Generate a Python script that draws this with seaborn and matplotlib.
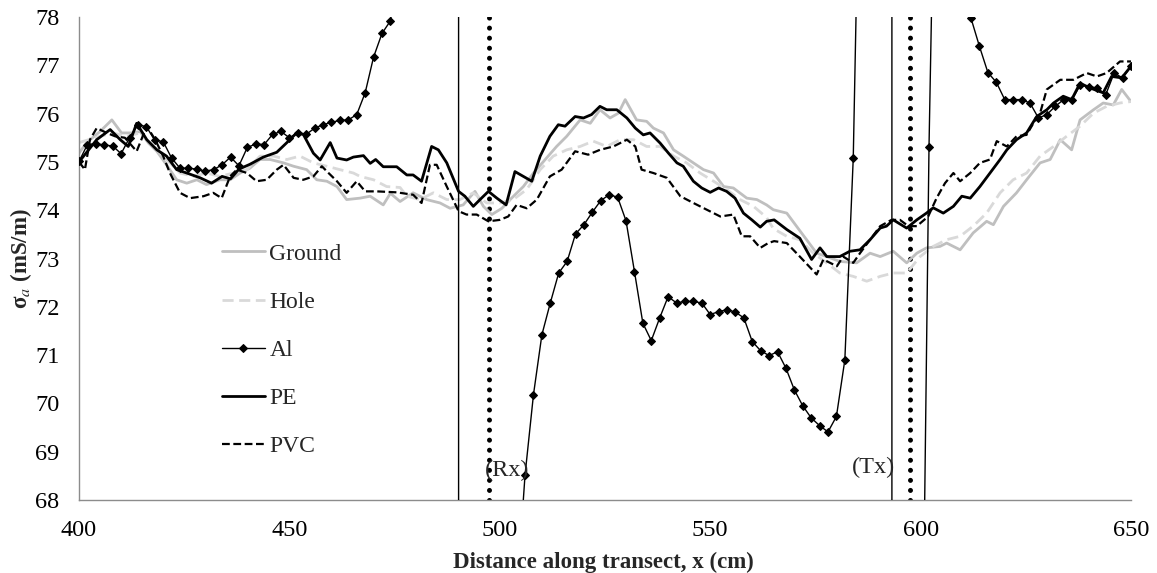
import matplotlib
matplotlib.use('Agg')
import matplotlib.pyplot as plt
import seaborn as sns

# ---------------- data ----------------
ground_x = [400, 401.8, 405, 407.8, 410.1, 412.5, 414.5, 416.5, 418.5, 420.8, 423.2, 425.6, 428, 430.3,
            433.5, 435.9, 438.3, 440.6, 443, 445.4, 448.6, 451, 454.1, 456.5, 458.9, 461.3, 463.6, 466.8,
            469.2, 472.3, 474, 476.3, 479.4, 482.6, 485.8, 488.2, 491.3, 494.1, 496.1, 498.1, 500.5, 502.8,
            505.6, 508, 511.1, 513.5, 515.9, 519.1, 521.5, 523.8, 526.2, 528.2, 529.8, 532.5, 534.9, 536.5,
            538.9, 541.3, 543.6, 546, 548.4, 550.8, 553.2, 555.5, 558.7, 561.1, 563.4, 565, 568.2, 570.5,
            572.9, 575.3, 577.7, 580.8, 584.8, 588, 590.4, 593.5, 596.7, 599.1, 601.4, 604.6, 606.2, 609.4,
            612.5, 615.7, 617.3, 619.7, 622.8, 625.2, 628.4, 630.8, 633.2, 635.9, 637.9, 641.1, 643.4, 645.8,
            647.8, 650]
ground_y = [75.18, 75.4, 75.63, 75.87, 75.6, 75.6, 75.63, 75.39, 75.22, 74.94, 74.63, 74.56, 74.63, 74.53,
            74.63, 74.63, 74.77, 74.87, 75.05, 75.05, 74.98, 74.91, 74.84, 74.63, 74.6, 74.49, 74.22, 74.25,
            74.29, 74.11, 74.35, 74.18, 74.36, 74.22, 74.15, 74.04, 74.11, 74.39, 74.08, 73.91, 74.04, 74.25,
            74.49, 74.77, 75.08, 75.32, 75.53, 75.87, 75.8, 76.08, 75.91, 76.01, 76.29, 75.87, 75.84, 75.7,
            75.6, 75.25, 75.12, 74.98, 74.84, 74.77, 74.49, 74.46, 74.25, 74.22, 74.11, 74.01, 73.94, 73.67,
            73.39, 73.11, 73.04, 72.94, 72.91, 73.11, 73.04, 73.15, 72.91, 73.11, 73.22, 73.25, 73.32, 73.18,
            73.53, 73.77, 73.7, 74.08, 74.36, 74.63, 74.98, 75.05, 75.46, 75.25, 75.87, 76.08, 76.22, 76.18,
            76.5, 76.25]

hole_x = [400, 405, 408, 411.3, 414.5, 417.7, 420.8, 424, 427.2, 430.3, 433.5, 436.7, 439.9, 443, 446.2,
          449.4, 452.5, 455.7, 458.9, 462, 465.2, 466.8, 470, 473.1, 476.3, 477.9, 481, 484.2, 487.4, 490.5,
          493.7, 496.9, 500, 503.2, 506.4, 509.6, 512.7, 515.9, 519.1, 522.2, 525.4, 528.6, 531.8, 534.9,
          538.1, 541.3, 544.4, 547.6, 550.8, 553.9, 557.1, 560.3, 563.4, 565, 568.2, 571.3, 574.5, 577.7,
          580.8, 584, 587.2, 590.4, 593.5, 596.7, 599.9, 603, 606.2, 609.4, 612.5, 615.7, 618.9, 622, 625.2,
          628.4, 631.6, 634.7, 637.9, 641.1, 644.2, 647.4, 650]
hole_y = [75.4, 75.53, 75.6, 75.53, 75.6, 75.32, 75.05, 74.77, 74.7, 74.77, 74.7, 74.77, 74.84, 75.12, 75.12,
          75.05, 75.12, 74.98, 74.91, 74.84, 74.77, 74.7, 74.63, 74.49, 74.47, 74.29, 74.22, 74.36, 74.22, 74.22,
          74.36, 74.15, 74.15, 74.22, 74.43, 74.84, 75.12, 75.25, 75.32, 75.43, 75.32, 75.46, 75.46, 75.32,
          75.32, 75.12, 74.98, 74.77, 74.6, 74.43, 74.22, 74.08, 73.85, 73.62, 73.46, 73.39, 73.11, 72.91,
          72.7, 72.63, 72.53, 72.63, 72.7, 72.7, 73.04, 73.25, 73.39, 73.46, 73.67, 73.94, 74.36, 74.63, 74.77,
          75.12, 75.32, 75.53, 75.74, 76.01, 76.15, 76.22, 76.25]

al_x = list(range(400, 651, 2))
al_y = [75.01, 75.36, 75.38, 75.35, 75.33, 75.17, 75.5, 75.77, 75.73, 75.45,
        75.42, 75.08, 74.87, 74.87, 74.85, 74.81, 74.84, 74.94, 75.1, 74.92,
        75.3, 75.37, 75.36, 75.57, 75.63, 75.5, 75.6, 75.57, 75.7, 75.77,
        75.82, 75.86, 75.87, 75.98, 76.43, 77.17, 77.66, 77.92, 79, 100,
        130, 180, 260, 400, 650, 1000, -8000, -3000, -1200, -500,
        -150, 20, 66.0, 68.52, 70.18, 71.42, 72.08, 72.7, 72.94, 73.51,
        73.7, 73.96, 74.2, 74.32, 74.27, 73.78, 72.73, 71.66, 71.3, 71.77,
        72.21, 72.08, 72.11, 72.11, 72.08, 71.84, 71.9, 71.94, 71.89, 71.77,
        71.28, 71.09, 70.99, 71.07, 70.73, 70.28, 69.95, 69.7, 69.54, 69.41,
        69.73, 70.9, 75.08, 84, 300, 2000, 6000, -4000, -2000, -500,
        61, 75.3, 84.7, 300, 200, 150, 77.97, 77.39, 76.85, 76.65,
        76.29, 76.29, 76.29, 76.22, 75.91, 75.98, 76.15, 76.29, 76.29, 76.6,
        76.56, 76.53, 76.39, 76.84, 76.74, 76.98]

pe_x = [400, 404.2, 407.4, 409.8, 411.7, 413.7, 416.1, 418.5, 420.8, 423.2, 425.6, 428.8, 431.5, 434, 436,
        438, 440.6, 443.8, 447, 449.4, 451.7, 453.3, 455.7, 457.3, 459.7, 461.3, 463.6, 465.2, 467.6, 469.2,
        470.5, 472.3, 475.5, 477.9, 479.4, 481.4, 483.8, 485.4, 487.4, 490.2, 491.7, 493.7, 495.3, 497.3,
        499.3, 501.5, 503.6, 505.6, 507.6, 509.6, 511.9, 513.9, 515.5, 517.9, 519.9, 521.8, 523.8, 525.4,
        527.8, 530.2, 532.2, 534.1, 535.7, 538.1, 540.1, 542.1, 543.6, 546, 548, 550, 552, 553.9, 555.9,
        557.9, 559.9, 561.9, 563.4, 565.2, 568.2, 571.3, 574.1, 576.1, 577.7, 580.8, 583.2, 585.6, 588,
        590.4, 591.9, 593.5, 596.7, 599.1, 601.4, 603, 605.4, 607.8, 609.8, 611.8, 614.1, 616.5, 618.9,
        620.5, 622.8, 625.2, 627.6, 630, 631.6, 633.9, 635.9, 637.9, 640.3, 643.4, 645.4, 647.8, 650]
pe_y = [75.0, 75.46, 75.67, 75.46, 75.32, 75.8, 75.46, 75.25, 75.12, 74.84, 74.77, 74.67, 74.56, 74.7, 74.65,
        74.85, 74.95, 75.1, 75.2, 75.4, 75.6, 75.57, 75.18, 75.04, 75.4, 75.08, 75.04, 75.1, 75.13, 74.97,
        75.05, 74.9, 74.9, 74.73, 74.73, 74.6, 75.32, 75.25, 74.98, 74.39, 74.29, 74.08, 74.22, 74.39,
        74.25, 74.11, 74.8, 74.7, 74.6, 75.12, 75.53, 75.77, 75.74, 75.94, 75.91, 75.98, 76.15, 76.08,
        76.08, 75.91, 75.7, 75.56, 75.6, 75.39, 75.18, 74.98, 74.91, 74.6, 74.46, 74.37, 74.46, 74.39, 74.25,
        73.94, 73.8, 73.65, 73.77, 73.8, 73.6, 73.42, 72.98, 73.22, 73.04, 73.04, 73.15, 73.18, 73.39,
        73.63, 73.67, 73.8, 73.63, 73.8, 73.94, 74.05, 73.94, 74.08, 74.29, 74.25, 74.49, 74.77, 75.05,
        75.25, 75.46, 75.6, 75.94, 76.08, 76.22, 76.36, 76.29, 76.63, 76.53, 76.43, 76.77, 76.74, 76.98]

pvc_x = [400, 401.4, 402.6, 404.2, 406.6, 408.6, 410.9, 413.7, 416.1, 418.1, 420, 421.6, 424, 426.4, 429.6,
         431.9, 433.9, 435.9, 437.5, 439.9, 442.2, 444.6, 447, 448.6, 451, 453.3, 455.7, 457.7, 459.3, 461.3,
         463.6, 466, 468, 470.8, 475.5, 479.4, 481.4, 483.4, 485, 487.4, 490.2, 492.1, 494.5, 497.3, 500,
         502, 504, 506.4, 508.8, 511.9, 514.7, 517.9, 521, 523.8, 527, 530.2, 532.2, 533.7, 536.5, 539.7,
         542.9, 546, 549.2, 552.4, 555.5, 557.5, 559.5, 561.9, 563.8, 565.2, 568.2, 571.3, 575.3, 576.9,
         578.5, 580.1, 581.6, 584, 585.6, 588, 590.4, 593.1, 595.1, 597.1, 599.1, 601.8, 603.8, 605.8,
         607.8, 609.4, 611.8, 614.1, 616.5, 618.1, 620.5, 622.8, 625.2, 626.8, 628.4, 630, 633.2, 636.3,
         637.9, 639.5, 641.9, 644.2, 647.4, 650]
pvc_y = [75.0, 74.84, 75.46, 75.7, 75.6, 75.53, 75.5, 75.22, 75.74, 75.46, 75.12, 74.77, 74.36, 74.25, 74.29,
         74.36, 74.25, 74.7, 74.84, 74.77, 74.6, 74.63, 74.84, 74.94, 74.67, 74.63, 74.7, 74.91, 74.77, 74.6,
         74.36, 74.6, 74.39, 74.39, 74.37, 74.32, 74.15, 74.94, 74.94, 74.49, 73.98, 73.91, 73.91, 73.77, 73.8,
         73.87, 74.11, 74.04, 74.22, 74.7, 74.84, 75.22, 75.15, 75.25, 75.32, 75.46, 75.32, 74.84, 74.77, 74.67,
         74.29, 74.15, 74.01, 73.87, 73.91, 73.46, 73.46, 73.22, 73.32, 73.36, 73.32, 73.04, 72.67, 72.98,
         72.91, 72.84, 73.04, 72.91, 73.11, 73.39, 73.67, 73.8, 73.8, 73.67, 73.67, 73.87, 74.25, 74.56,
         74.77, 74.6, 74.77, 74.98, 75.05, 75.43, 75.32, 75.53, 75.56, 75.8, 76.01, 76.5, 76.7, 76.7,
         76.77, 76.84, 76.77, 76.84, 77.08, 77.08]

coil_x = [497.5, 597.5]
coil_labels = ['(Rx)', '(Tx)']
coil_label_x = [501.7, 588.8]
coil_label_y = [68.62, 68.68]

x_ticks = [400, 450, 500, 550, 600, 650]
y_ticks = list(range(68, 79))

# ---------------- style ----------------
sns.set_style('white')
plt.rcParams['font.family'] = ['Liberation Serif', 'DejaVu Serif']
plt.rcParams['mathtext.fontset'] = 'stix'

fig = plt.figure(figsize=(11.57, 5.73), dpi=100)
ax = fig.add_axes([0.0683, 0.1274, 0.9092, 0.8429])

# coil position markers (thick round dots)
for cx in coil_x:
    ax.axvline(cx, color='black', lw=3.6, linestyle=(0, (0.01, 2.0)),
               dash_capstyle='round', zorder=1)

sns.lineplot(x=ground_x, y=ground_y, ax=ax, color='#bfbfbf', lw=2.0, label='Ground',
             sort=False, estimator=None, zorder=2)
sns.lineplot(x=hole_x, y=hole_y, ax=ax, color='#d9d9d9', lw=2.0, linestyle=(0, (4, 2)),
             label='Hole', sort=False, estimator=None, zorder=2)
sns.lineplot(x=al_x, y=al_y, ax=ax, color='black', lw=1.0, marker='D', markersize=3.7,
             markeredgecolor='black', label='Al', sort=False, estimator=None, zorder=3)
sns.lineplot(x=pe_x, y=pe_y, ax=ax, color='black', lw=2.0, label='PE',
             sort=False, estimator=None, zorder=4)
sns.lineplot(x=pvc_x, y=pvc_y, ax=ax, color='black', lw=1.6, linestyle=(0, (3.5, 1.6)),
             label='PVC', sort=False, estimator=None, zorder=5)

for lx, ly, txt in zip(coil_label_x, coil_label_y, coil_labels):
    ax.text(lx, ly, txt, ha='center', va='center', fontsize=17.5, zorder=6)

ax.set_xlim(400, 650)
ax.set_ylim(68, 78)
ax.set_xticks(x_ticks)
ax.set_yticks(y_ticks)

for side in ['top', 'right']:
    ax.spines[side].set_visible(False)
for side in ['left', 'bottom']:
    ax.spines[side].set_color('#8c8c8c')
    ax.spines[side].set_linewidth(1.0)

ax.tick_params(axis='both', direction='out', length=5, width=1, color='#8c8c8c',
               labelsize=17.5, labelcolor='black')
ax.tick_params(axis='x', pad=9.5)
ax.tick_params(axis='y', pad=9)

ax.set_xlabel('Distance along transect, x (cm)', fontsize=16.5, fontweight='bold')
ax.xaxis.label.set_va('center')
ax.xaxis.set_label_coords(0.498, -0.13)
ax.set_ylabel('σ$_{a}$ (mS/m)', fontsize=16.5, fontweight='bold')
ax.yaxis.label.set_va('center')
ax.yaxis.set_label_coords(-0.055, 0.5)

handles, labels = ax.get_legend_handles_labels()
ax.legend(handles, labels, loc='upper left', bbox_to_anchor=(0.136, 0.532), frameon=False,
          fontsize=17, labelspacing=1.13, handlelength=1.8, handletextpad=0.2,
          borderpad=0, borderaxespad=0)

fig.savefig('out.png', dpi=100)
